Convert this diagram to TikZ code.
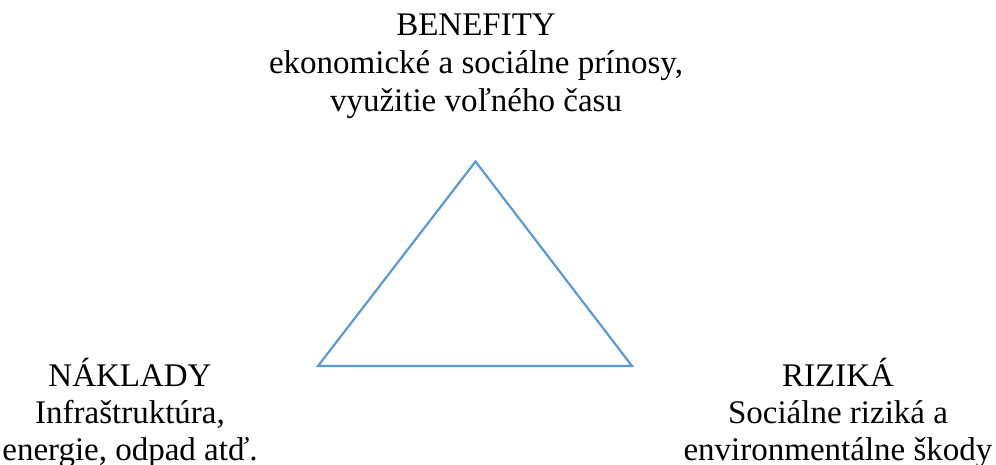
\documentclass[tikz,border=0pt]{standalone}
\usepackage{fontspec}
\setmainfont{Liberation Serif}
\definecolor{triblue}{HTML}{5B9BD5}
\begin{document}
\begin{tikzpicture}[x=1pt,y=1pt,
  lbl/.style={anchor=base,inner sep=0pt,font=\fontsize{33}{38}\selectfont},
  tri/.style={draw=triblue,line width=2.2pt,line join=miter}]
\useasboundingbox (0,0) rectangle (996,464);
% triangle
\coordinate (apex) at (475.5,302.5);
\coordinate (bl) at (318,98);
\coordinate (br) at (632,98);
\draw[tri] (apex) -- (bl) -- (br) -- cycle;
% BENEFITY
\node[lbl] (b1) at (476,428) {BENEFITY};
\node[lbl] (b2) at (476,390) {ekonomické a sociálne prínosy,};
\node[lbl] (b3) at (476,352) {využitie voľného času};
% NAKLADY
\node[lbl] (n1) at (130,78) {NÁKLADY};
\node[lbl] (n2) at (130,41) {Infraštruktúra,};
\node[lbl] (n3) at (130,4) {energie, odpad atď.};
% RIZIKA
\node[lbl] (r1) at (838,78) {RIZIKÁ};
\node[lbl] (r2) at (838,41) {Sociálne riziká a};
\node[lbl] (r3) at (838,4) {environmentálne škody};
\end{tikzpicture}
\end{document}
